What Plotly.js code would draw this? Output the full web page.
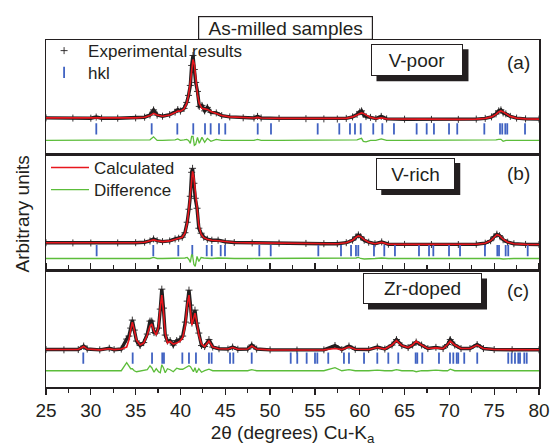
<!DOCTYPE html>
<html>
<head>
<meta charset="utf-8">
<script src="https://cdn.plot.ly/plotly-3.0.1.min.js"></script>
<style>html,body{margin:0;padding:0;background:#fff;}#chart{width:551px;height:446px;}</style>
</head>
<body>
<div id="chart"></div>
<script>
// ---------- Panel (a) V-poor ----------
const twoThetaA = [25,28,30,30.6,31.2,33,35,36,36.6,37.0,37.4,38,38.8,39.4,39.7,40.0,40.4,40.7,40.9,41.1,41.25,41.4,41.55,41.7,41.9,42.1,42.4,42.7,43.0,43.4,44,44.6,45.5,47,48.2,48.6,49,51,54,56,57.5,58.5,59.2,59.7,60.0,60.2,60.4,60.7,61.2,61.8,62.4,63,65,68,71,73,74,74.7,75.2,75.5,75.75,76.0,76.3,76.8,77.5,78.5,80];
const calcA = [36.5,36.3,36.2,36.8,36.2,36.2,36.5,37.2,38.8,41,39.3,38.2,39.3,41.8,43.3,43.3,45.5,51,59,72,85,95,90,76,60,51,46,45.5,45,43,40.5,38.8,37.5,36.6,36.4,37,36.4,36,35.7,35.5,35.4,36,37.5,39.5,41,41.5,41,39.3,37,35.8,36.5,35.5,35.2,35,35,35.3,36,37.5,40,42.5,43.5,42.5,40.5,38,36.3,35.5,35.3];
const diffA = [0,0,0,0.5,0,0,0,0,0.5,3.5,0,0,0.5,0.5,1.5,0,0.5,1,0,-3,4,4,-5,-4,3,-3,3,-2,2,-1,1,0,0,0,0,1,0,0,0,0,0,0,0,0.5,1.5,2,-1,-1.5,0,0,1.5,0,0,0,0,0,0,0,0.5,1,1,-1,0,0,0,0,0];
const hklA = [30.61,36.79,39.65,41.43,42.74,43.37,44.30,45.0,48.62,50.1,55.31,57.72,58.91,59.47,60.11,61.51,62.52,63.82,66.35,67.47,68.28,69.96,70.88,73.90,75.65,75.9,76.24,76.46,78.44];

// ---------- Panel (b) V-rich ----------
const twoThetaB = [25,28,30,33,35,36,36.6,37.0,37.4,38,38.8,39.4,39.8,40.2,40.5,40.75,40.95,41.1,41.25,41.35,41.5,41.65,41.85,42.05,42.3,42.6,43.0,43.5,44.2,45,46,48,51,54,56,57.5,58.5,59.2,59.6,59.85,60.1,60.5,61,61.7,62.45,63.2,65,68,71,73,74,74.6,75.0,75.3,75.6,76.0,76.5,77.2,78.5,80];
const calcB = [27.5,27.3,27.2,27.3,27.5,28,29.2,30.3,29.5,28.6,29.3,30.8,31.5,33,37,47,62,78,94,99,93,80,60,45,36,32.5,31,30,29.5,28.5,27.7,27.3,27,26.8,26.5,26.5,27.5,30,33,34.3,33.5,30.5,28,26.5,27.8,26,25.8,25.7,25.7,26,27,29.5,33,35.5,34.5,31,28,26.5,25.8,25.7];
const diffB = [0,0,0,0,0,0,0,1,0,0,0,0.5,0.5,0,0.5,1,-1,-4,4,3,-6,-8,2,-3,1,0.5,0,0,0.5,0,0,0,0,0,0,0,0,0,0.5,1,0,-0.5,0,0,0.5,0,0,0,0,0,0,0,0.5,0.5,0,-0.5,0,0,0,0];
const hklB = [30.65,36.97,39.76,41.32,42.93,43.49,44.49,44.97,48.80,50.07,55.38,57.91,59.03,59.58,59.84,61.59,62.74,63.93,66.61,67.73,68.21,69.96,71.19,73.97,75.35,75.54,76.28,76.57,78.74];

// ---------- Panel (c) Zr-doped ----------
const twoThetaC = [25,27,28.6,29.2,29.6,31,32.06,32.6,33.4,34.0,34.25,34.45,34.63,34.85,35.1,35.5,35.9,36.3,36.6,36.8,37.05,37.3,37.55,37.75,37.92,38.1,38.3,38.55,38.85,39.2,39.58,39.95,40.25,40.55,40.75,40.95,41.12,41.28,41.45,41.62,41.8,42.05,42.35,42.7,43.18,43.6,44.3,45.3,45.82,46.4,47.5,47.95,48.5,50,53,56,57.24,58,58.8,59.5,61,61.96,62.8,63.6,64.1,64.7,65.4,65.9,66.3,66.9,67.6,68.5,69.3,69.8,70.1,70.6,71.3,72.3,73.1,73.8,75,77,80];
const calcC = [37.5,37.2,37.5,40.5,38,37.2,38.3,37.4,38,40,47,57,65,57,47,42,44,52,61,63,56,52,60,80,92,76,54,44,45.5,43,44,46,49.5,62,82,92,78,62,68,74,66,52,43,40.5,46,40,38.3,38,39.5,37.8,38,41,38,37.2,37,37.2,38.5,37.5,40,37.8,37.5,39.5,38,42,46.5,41.5,39.5,42,46,42,38.5,39.2,38.5,42.5,46,42,38.5,38.5,42,38.5,37.5,37.3,37.3];
const diffC = [0,0,0,0.5,0,0,0.5,0,0,8,4,2,2,0,-1,-0.5,0.5,1,5,3,-1.5,2,-1,-2,6,3,-2,2,1,-1,2.5,1.5,1.5,3,4,5,4,2,-1,3,-2,2,-1.5,0,1.5,0,0,0,0.5,0,0,1,0,0,0,0,3,0,1,0,0,0.5,0,0,1,0,0,0,-1,0,0,0.5,0,0,1.5,0,0,0,0.5,0,0,0,0];
const hklC = [29.16,34.67,36.83,37.97,38.16,40.21,40.95,41.73,43.18,43.48,45.53,45.9,47.95,52.30,53.03,54.08,55.01,55.27,56.49,58.24,58.80,60.48,61.96,63.19,64.30,66.24,66.42,66.98,68.84,70.07,70.44,70.82,70.99,71.66,73.11,76.57,76.95,77.32,77.69,77.88,78.36,78.63];

const xTicks = [25,30,35,40,45,50,55,60,65,70,75,80];
const sampleLabels = ['V-poor','V-rich','Zr-doped'];
const panelLetters = ['(a)','(b)','(c)'];
const legendNames = ['Experimental results','hkl','Calculated','Difference'];

// ---------- styles ----------
const FONT = 'Liberation Sans, Arial, sans-serif';
const INK = '#231f20';
const RED = '#e8161d';
const GREEN = '#5cbd3a';
const BLUE = '#4062c2';

const panels = [
  {x: twoThetaA, calc: calcA, diff: diffA, hkl: hklA, yaxis: 'y3', diffBase: 14, hklY: 25.5},
  {x: twoThetaB, calc: calcB, diff: diffB, hkl: hklB, yaxis: 'y2', diffBase: 11.7, hklY: 19.5},
  {x: twoThetaC, calc: calcC, diff: diffC, hkl: hklC, yaxis: 'y', diffBase: 16.3, hklY: 29}
];

const traces = [];
panels.forEach((p, i) => {
  const obs = p.calc.map((c, k) => c + p.diff[k]);
  const diffPlot = p.diff.map(d => p.diffBase + d);
  const hklY = p.hkl.map(() => p.hklY);
  traces.push({x: p.x, y: obs, xaxis: 'x', yaxis: p.yaxis, mode: 'lines', type: 'scatter',
    line: {color: INK, width: 3.4}, showlegend: false, hoverinfo: 'skip'});
  traces.push({x: p.x, y: obs, xaxis: 'x', yaxis: p.yaxis, mode: 'markers', type: 'scatter',
    name: legendNames[0], legend: 'legend', showlegend: i === 0,
    marker: {symbol: 'cross-thin', size: 5, color: INK, line: {color: INK, width: 0.9}}});
  traces.push({x: p.hkl, y: hklY, xaxis: 'x', yaxis: p.yaxis, mode: 'markers', type: 'scatter',
    name: legendNames[1], legend: 'legend2', showlegend: i === 0,
    marker: {symbol: 'line-ns', size: 8, color: BLUE, line: {color: BLUE, width: 1.8}}});
  traces.push({x: p.x, y: p.calc, xaxis: 'x', yaxis: p.yaxis, mode: 'lines', type: 'scatter',
    name: legendNames[2], legend: 'legend3', showlegend: i === 1,
    line: {color: RED, width: 1.6}});
  traces.push({x: p.x, y: diffPlot, xaxis: 'x', yaxis: p.yaxis, mode: 'lines', type: 'scatter',
    name: legendNames[3], legend: 'legend4', showlegend: i === 1,
    line: {color: GREEN, width: 1.3}});
});

function yAx(domain, range) {
  return {domain: domain, range: range, anchor: 'x', showline: true, linecolor: INK, linewidth: 1.5,
    mirror: true, ticks: '', showticklabels: false, showgrid: false, zeroline: false, fixedrange: true};
}
function leg(x, y) {
  return {x: x, y: y, xanchor: 'left', yanchor: 'top', bgcolor: 'rgba(0,0,0,0)', borderwidth: 0,
    font: {family: FONT, size: 17, color: INK}, itemwidth: 38, tracegroupgap: 0};
}

const boxes = [
  {x: 0.7525, y: 0.943, w: 90, h: 30},
  {x: 0.749, y: 0.615, w: 77, h: 30},
  {x: 0.7627, y: 0.284, w: 117, h: 29}
];
const letters = [{x: 0.9594, y: 0.9353}, {x: 0.9594, y: 0.6144}, {x: 0.9574, y: 0.2791}];

const annotations = [];
const shapes = [];
boxes.forEach((b, i) => {
  const hw = b.w / 2 + 1, hh = b.h / 2 + 1;
  shapes.push({type: 'rect', xref: 'paper', yref: 'paper', xsizemode: 'pixel', ysizemode: 'pixel',
    xanchor: b.x, yanchor: b.y, x0: -hw + 5.5, x1: hw + 5.5, y0: -hh - 5.5, y1: hh - 5.5,
    fillcolor: INK, line: {width: 0}, layer: 'above'});
  annotations.push({xref: 'paper', yref: 'paper', x: b.x, y: b.y, xanchor: 'center', yanchor: 'middle',
    text: sampleLabels[i], showarrow: false, width: b.w, height: b.h, borderpad: 0,
    bgcolor: '#ffffff', bordercolor: INK, borderwidth: 1,
    font: {family: FONT, size: 19, color: INK}});
  annotations.push({xref: 'paper', yref: 'paper', x: letters[i].x, y: letters[i].y, xanchor: 'center', yanchor: 'middle',
    text: panelLetters[i], showarrow: false, font: {family: FONT, size: 19, color: INK}});
});
annotations.push({xref: 'paper', yref: 'paper', x: 0.4858, y: 1.036, xanchor: 'center', yanchor: 'middle',
  text: 'As-milled samples', showarrow: false, width: 173, height: 22, borderpad: 0,
  bgcolor: '#ffffff', bordercolor: INK, borderwidth: 1.2, font: {family: FONT, size: 19, color: INK}});
annotations.push({xref: 'paper', yref: 'paper', x: -0.0467, y: 0.5, xanchor: 'center', yanchor: 'middle',
  text: 'Arbitrary units', textangle: -90, showarrow: false, font: {family: FONT, size: 19, color: INK}});

const layout = {
  width: 551, height: 446,
  margin: {l: 46, r: 12, t: 40, b: 59},
  paper_bgcolor: '#ffffff', plot_bgcolor: '#ffffff',
  font: {family: FONT, size: 19, color: INK},
  showlegend: true,
  legend: leg(-0.012, 1.020),
  legend2: leg(-0.012, 0.957),
  legend3: leg(0.0, 0.683),
  legend4: leg(0.0, 0.6196),
  xaxis: {domain: [0, 1], anchor: 'y', range: [25, 80], tickvals: xTicks, ticktext: xTicks.map(String),
    showline: true, linecolor: INK, linewidth: 1.5, mirror: 'all',
    ticks: 'outside', ticklen: 6, tickwidth: 1.3, tickcolor: INK,
    minor: {dtick: 2.5, tick0: 25, ticks: 'outside', ticklen: 4, tickwidth: 1.2, tickcolor: INK, showgrid: false},
    tickfont: {family: FONT, size: 19, color: INK},
    showgrid: false, zeroline: false, fixedrange: true,
    title: {text: '2θ (degrees) Cu-K<sub>a</sub>', font: {family: FONT, size: 19, color: INK}, standoff: 6}},
  yaxis: yAx([0, 0.3367], [0, 117]),
  yaxis2: yAx([0.3367, 0.6705], [0, 116]),
  yaxis3: yAx([0.6705, 1], [0, 114.5]),
  shapes: shapes,
  annotations: annotations
};

Plotly.newPlot('chart', traces, layout, {displayModeBar: false, staticPlot: true});
</script>
</body>
</html>
